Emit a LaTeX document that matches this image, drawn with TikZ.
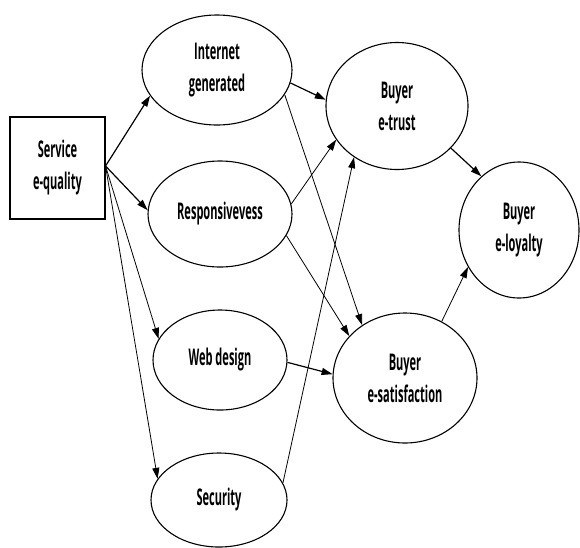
\documentclass[tikz,border=0pt]{standalone}
\usepackage{fontspec}
\setmainfont{Open Sans}[FakeStretch=0.48]
\usetikzlibrary{shapes.geometric,arrows.meta}
\begin{document}
\begin{tikzpicture}[x=1pt,y=-1pt,
  lbl/.style={font=\fontsize{23}{32}\selectfont\bfseries, align=center},
  oval/.style={ellipse, draw, line width=1.1pt, inner sep=0pt, lbl},
  thick arrow/.style={line width=1.2pt, -{Triangle[length=11pt,width=7pt]}},
  thin arrow/.style={line width=0.8pt, -{Triangle[length=11pt,width=7pt]}}]
\useasboundingbox (0,0) rectangle (580,547);
\node[draw, line width=1.1pt, minimum width=95pt, minimum height=102pt, inner sep=0pt, lbl] (svc) at (57.5,168) {Service\\e-quality};
\node[oval, minimum width=150pt, minimum height=110pt] (int) at (217,70) {Internet\\generated};
\node[oval, minimum width=144pt, minimum height=106pt] (res) at (220,214) {Responsivevess};
\node[oval, minimum width=134pt, minimum height=100pt] (web) at (220,360) {Web design};
\node[oval, minimum width=136pt, minimum height=94pt] (sec) at (219,500) {Security};
\node[oval, minimum width=142pt, minimum height=127pt] (tru) at (397,106) {Buyer\\e-trust};
\node[oval, minimum width=144pt, minimum height=130pt] (sat) at (405,378) {Buyer\\e-satisfaction};
\node[oval, minimum width=120pt, minimum height=136pt] (loy) at (519,230) {Buyer\\e-loyalty};
\coordinate (s0) at ([yshift=2pt]svc.east);
\draw[thick arrow] (s0) -- (int.201);
\draw[thick arrow] (s0) -- (res.177);
\draw[thin arrow] (s0) -- (web.161);
\draw[thin arrow] (s0) -- (sec.161);
\draw[thick arrow] (int.350) -- (tru.175);
\draw[thin arrow] (int.340) -- (sat.129);
\draw[thin arrow] (res.8) -- (tru.209);
\draw[thin arrow] (res.342) -- (sat.143);
\draw[thick arrow] (web.358) -- (sat.177);
\draw[thin arrow] (sec.15) -- (tru.230);
\draw[thick arrow] (tru.322) -- (loy.125);
\draw[thin arrow] (sat.57) -- (loy.216);
\end{tikzpicture}
\end{document}
